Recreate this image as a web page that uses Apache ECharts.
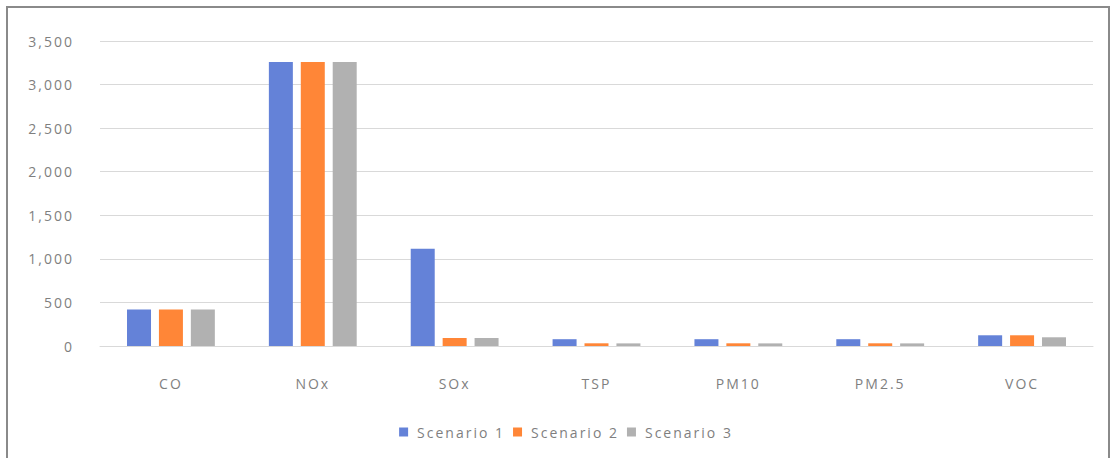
<!DOCTYPE html>
<html><head><meta charset="utf-8">
<script src="https://cdn.jsdelivr.net/npm/echarts@6/dist/echarts.min.js"></script>
<style>html,body{margin:0;padding:0;background:#fff}#c{width:1112px;height:458px}
#c svg text{letter-spacing:2px}</style>
</head><body><div id="c"></div>
<script>
const categories = ['CO','NOx','SOx','TSP','PM10','PM2.5','VOC'];
const seriesNames = ['Scenario 1','Scenario 2','Scenario 3'];
const scenario1 = [420, 3260, 1115, 78, 78, 78, 123];
const scenario2 = [420, 3260, 92, 31, 31, 31, 123];
const scenario3 = [420, 3260, 92, 30, 30, 30, 100];
const colors = ['#6482d8','#ff8637','#b1b1b1'];

const chart = echarts.init(document.getElementById('c'), null, {renderer:'svg'});
const font = '"Open Sans", sans-serif';
chart.setOption({
  animation:false,
  color: colors,
  graphic:[{type:'rect', shape:{x:7,y:7,width:1102,height:470}, style:{fill:'none', stroke:'#8a8a8a', lineWidth:2}, silent:true}],
  grid:{left:100,right:19,top:41,bottom:112},
  legend:{bottom:14,left:'center',itemWidth:9,itemHeight:9,itemGap:28,icon:'rect',
    textStyle:{color:'#7f7f7f',fontSize:14,fontFamily:font,padding:[0,0,0,4]}},
  xAxis:{type:'category',data:categories,
    axisLine:{lineStyle:{color:'#d9d9d9',width:1}},axisTick:{show:false},
    axisLabel:{color:'#7f7f7f',fontSize:14,fontFamily:font,margin:30}},
  yAxis:{type:'value',min:0,max:3500,interval:500,
    axisLine:{show:false},axisTick:{show:false},
    splitLine:{lineStyle:{color:'#d9d9d9',width:1}},
    axisLabel:{color:'#7f7f7f',fontSize:14,fontFamily:font,margin:26,
      formatter:v=>v.toLocaleString('en-US')}},
  series:[
    {name:seriesNames[0],type:'bar',data:scenario1,barWidth:24,barGap:'33%'},
    {name:seriesNames[1],type:'bar',data:scenario2,barWidth:24,barGap:'33%'},
    {name:seriesNames[2],type:'bar',data:scenario3,barWidth:24,barGap:'33%'}
  ]
});
</script></body></html>
